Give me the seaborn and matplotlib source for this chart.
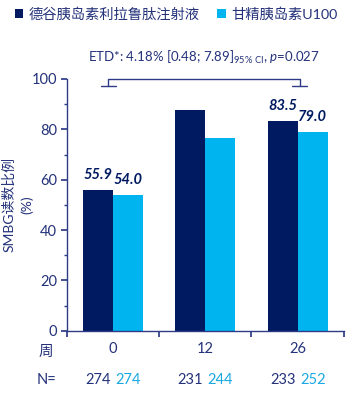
import matplotlib
matplotlib.use("Agg")
import matplotlib.pyplot as plt
from matplotlib.patches import Patch
from matplotlib.ticker import MultipleLocator
import seaborn as sns
import pandas as pd

weeks = ["0", "12", "26"]
series = ["德谷胰岛素利拉鲁肽注射液", "甘精胰岛素U100"]
ideglira = [55.9, 87.7, 83.5]
glargine = [54.0, 76.4, 79.0]
labels_ideglira = ["55.9", "", "83.5"]
labels_glargine = ["54.0", "", "79.0"]
n_ideglira = [274, 231, 233]
n_glargine = [274, 244, 252]
etd_text = "ETD*: 4.18% [0.48; 7.89]$_{\\mathregular{95\\%\\ CI}}$, $p$=0.027"

DARK = "#001A61"
LIGHT = "#00B4F0"
TXT = "#24327A"
SPINE = "#2E3C88"
NLIGHT = "#1AA8E2"

df = pd.DataFrame({
    "week": weeks * 2,
    "group": [series[0]] * 3 + [series[1]] * 3,
    "value": ideglira + glargine,
})

sns.set_theme(style="white")
plt.rcParams["font.family"] = ["Lato", "Noto Sans CJK SC", "DejaVu Sans"]
plt.rcParams["mathtext.fontset"] = "custom"
plt.rcParams["mathtext.rm"] = "Lato"
plt.rcParams["mathtext.it"] = "Lato:italic"

fig = plt.figure(figsize=(3.62, 4.0), dpi=100)
ax = fig.add_axes([0.184, 0.173, 0.766, 0.6295])

sns.barplot(data=df, x="week", y="value", hue="group", order=weeks,
            hue_order=series, palette=[DARK, LIGHT], width=0.65,
            saturation=1, ax=ax, legend=False, errorbar=None, linewidth=0)

ax.set_xlim(-0.5, 2.5)
ax.set_ylim(0, 100)
ax.set_xlabel("")
ax.set_ylabel("SMBG读数比例\n(%)", color=TXT, fontsize=10, linespacing=1.5)
ax.yaxis.set_label_coords(-0.12, 0.5)

for s in ["top", "right"]:
    ax.spines[s].set_visible(False)
for s in ["left", "bottom"]:
    ax.spines[s].set_color(SPINE)
    ax.spines[s].set_linewidth(1.0)

ax.yaxis.set_major_locator(MultipleLocator(20))
ax.yaxis.set_minor_locator(MultipleLocator(10))
ax.tick_params(axis="y", which="major", direction="out", length=4, color=SPINE,
               labelcolor=TXT, labelsize=10.5, left=True, pad=3)
ax.tick_params(axis="y", which="minor", direction="out", length=2.5, color=SPINE, left=True)

# x: ticks at boundaries, labels at centers
ax.set_xticks([-0.5, 0.5, 1.5, 2.5])
ax.set_xticklabels(["", "", "", ""])
ax.set_xticks([0, 1, 2], minor=True)
ax.set_xticklabels(weeks, minor=True)
ax.tick_params(axis="x", which="major", direction="out", length=4, color=SPINE, bottom=True)
ax.tick_params(axis="x", which="minor", length=0, labelcolor=TXT, labelsize=10.5, pad=8)

# value labels
bars = ax.patches
dark_bars = bars[:3]
light_bars = bars[3:6]
for b, t in zip(dark_bars, labels_ideglira):
    if t:
        ax.text(b.get_x() + b.get_width() / 2, b.get_height() + 3, t, ha="center", va="bottom",
                fontsize=10.5, fontweight="bold", fontstyle="italic", color=DARK)
for b, t in zip(light_bars, labels_glargine):
    if t:
        ax.text(b.get_x() + b.get_width() / 2, b.get_height() + 3, t, ha="center", va="bottom",
                fontsize=10.5, fontweight="bold", fontstyle="italic", color=DARK)

# N row
for i in range(3):
    xd = dark_bars[i].get_x() + dark_bars[i].get_width() / 2
    xl = light_bars[i].get_x() + light_bars[i].get_width() / 2
    ax.text(xd, -19.5, str(n_ideglira[i]), ha="center", va="center", fontsize=10.5,
            color=TXT, clip_on=False)
    ax.text(xl, -19.5, str(n_glargine[i]), ha="center", va="center", fontsize=10.5,
            color=NLIGHT, clip_on=False)
ax.text(-0.72, -8.4, "周", ha="center", va="center", fontsize=10.5, color=TXT, clip_on=False)
ax.text(-0.72, -19.5, "N=", ha="center", va="center", fontsize=10.5, color=TXT, clip_on=False)

# bracket
bx0, bx1, by, bdrop = -0.05, 2.02, 100, 2.8
ax.plot([bx0, bx0, bx1, bx1], [by - bdrop, by, by, by - bdrop], color=SPINE, lw=1.0, clip_on=False)
ax.plot([bx0 - 0.08, bx0 + 0.08], [by - bdrop, by - bdrop], color=SPINE, lw=1.0, clip_on=False)
ax.plot([bx1 - 0.08, bx1 + 0.08], [by - bdrop, by - bdrop], color=SPINE, lw=1.0, clip_on=False)
ax.text(0.98, 108.5, etd_text, ha="center", va="center", fontsize=9.5, color=TXT, clip_on=False)

# legend
handles = [Patch(facecolor=DARK, edgecolor="none"), Patch(facecolor=LIGHT, edgecolor="none")]
leg = fig.legend(handles, series, loc="upper left", bbox_to_anchor=(0.025, 0.997), ncol=2,
                 frameon=False, fontsize=10.3, handlelength=0.6, handleheight=0.6,
                 handletextpad=0.4, columnspacing=1.2, borderaxespad=0)
for t in leg.get_texts():
    t.set_color(TXT)

fig.savefig("out.png", dpi=100)
